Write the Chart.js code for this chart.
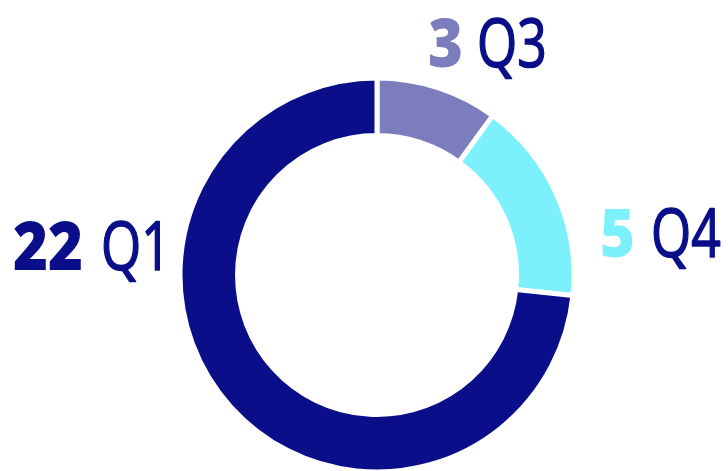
<!DOCTYPE html>
<html>
<head>
<meta charset="utf-8">
<script src="https://cdn.jsdelivr.net/npm/chart.js@4.4.0/dist/chart.umd.min.js"></script>
<style>
html,body{margin:0;padding:0;background:#ffffff;}
#wrap{width:728px;height:471px;position:relative;}
</style>
</head>
<body>
<div id="wrap"><canvas id="c" width="728" height="471"></canvas></div>
<script>
const categories = ['Q3', 'Q4', 'Q1'];
const values = [3, 5, 22];
const colors = ['#7b7dbd', '#7df0fe', '#0a0e88'];
const labelColor = '#0a0e88';

// label layout (left x of number, left x of category, baseline)
const labelLayout = [
  {numX: 428, catX: 477, y: 67},
  {numX: 600, catX: 651, y: 257},
  {numX: 13, catX: 101, y: 270}
];

const labelPlugin = {
  id: 'outLabels',
  afterDraw(chart, args, opts) {
    const ctx = chart.ctx;
    const ds = chart.data.datasets[0];
    ctx.save();
    ctx.textBaseline = 'alphabetic';
    ctx.textAlign = 'left';
    chart.data.labels.forEach((lab, i) => {
      const L = opts.layout[i];
      ctx.save();
      ctx.translate(L.numX, L.y);
      ctx.scale(opts.numScaleX, 1);
      ctx.font = '800 ' + opts.size + 'px "Open Sans"';
      ctx.fillStyle = ds.backgroundColor[i];
      ctx.fillText(String(ds.data[i]), 0, 0);
      ctx.restore();
      ctx.save();
      ctx.translate(L.catX, L.y);
      ctx.scale(opts.catScaleX, 1);
      ctx.font = '500 ' + opts.size + 'px "Open Sans"';
      ctx.fillStyle = opts.color;
      ctx.strokeStyle = opts.color;
      ctx.lineWidth = 1.6;
      ctx.lineJoin = 'round';
      ctx.fillText(lab, 0, 0);
      ctx.strokeText(lab, 0, 0);
      ctx.restore();
    });
    ctx.restore();
  }
};

new Chart(document.getElementById('c'), {
  type: 'doughnut',
  data: {
    labels: categories,
    datasets: [{
      data: values,
      backgroundColor: colors,
      borderColor: '#ffffff',
      borderWidth: 5,
      hoverBorderWidth: 5,
      hoverOffset: 0
    }]
  },
  options: {
    responsive: false,
    animation: false,
    events: [],
    radius: 197,
    cutout: '70.8%',
    layout: {padding: {left: 26, right: 0, top: 79, bottom: 0}},
    plugins: {
      legend: {display: false},
      tooltip: {enabled: false},
      outLabels: {layout: labelLayout, size: 68, numScaleX: 0.88, catScaleX: 0.76, color: labelColor}
    }
  },
  plugins: [labelPlugin]
});
</script>
</body>
</html>
